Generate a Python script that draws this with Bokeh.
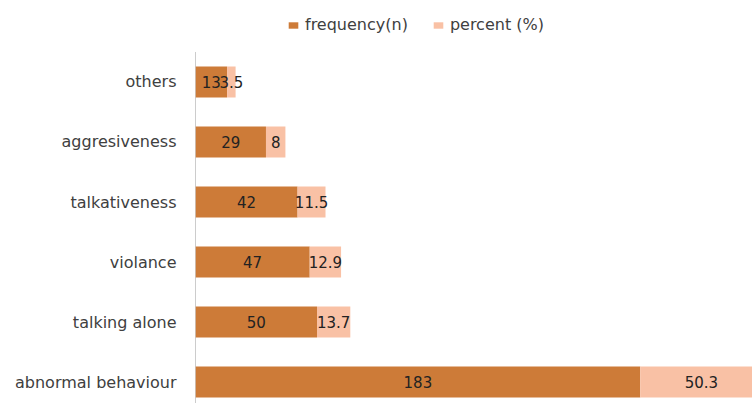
from bokeh.plotting import figure
from bokeh.models import Range1d, FixedTicker, ColumnDataSource, Legend, LegendItem
from bokeh.core.properties import value
from bokeh.embed import file_html
from bokeh.resources import INLINE

categories = ["abnormal behaviour", "talking alone", "violance", "talkativeness", "aggresiveness", "others"]
frequency = [183, 50, 47, 42, 29, 13]
percent = [50.3, 13.7, 12.9, 11.5, 8, 3.5]
freq_labels = ["183", "50", "47", "42", "29", "13"]
pct_labels = ["50.3", "13.7", "12.9", "11.5", "8", "3.5"]

FONT = "DejaVu Sans"
C_FREQ = "#CD7B38"
C_PCT = "#F9C1A5"
TXT = "#404040"

Y_LO = -0.358
Y_AXIS_TOP = 5.5
Y_HI = 6.358

ypos = list(range(len(categories)))
src = ColumnDataSource(dict(
    y=ypos,
    f_end=frequency,
    p_end=[a + b for a, b in zip(frequency, percent)],
    zero=[0] * len(categories),
    f_mid=[a / 2 for a in frequency],
    p_mid=[a + b / 2 for a, b in zip(frequency, percent)],
    fl=freq_labels,
    pl=pct_labels,
))

p = figure(width=752, height=403, output_backend="svg", toolbar_location=None,
           x_range=Range1d(0, 229.2), y_range=Range1d(Y_LO, Y_HI),
           min_border_left=195, min_border_right=0, min_border_bottom=0, min_border_top=0)
p.outline_line_color = None
p.grid.visible = False
p.xaxis.visible = False
p.background_fill_color = "white"
p.border_fill_color = "white"

# axis line (from bottom of range up to top of category area)
p.segment(x0=[0], y0=[Y_LO], x1=[0], y1=[Y_AXIS_TOP], line_color="#999999", line_width=1)

r1 = p.hbar(y="y", left="zero", right="f_end", height=0.52, source=src, fill_color=C_FREQ, line_color=None)
r2 = p.hbar(y="y", left="f_end", right="p_end", height=0.52, source=src, fill_color=C_PCT, line_color=None)

p.text(x="f_mid", y="y", text="fl", source=src, text_align="center", text_baseline="middle",
       text_font=value(FONT), text_font_size="15px", text_color="#222222")
p.text(x="p_mid", y="y", text="pl", source=src, text_align="center", text_baseline="middle",
       text_font=value(FONT), text_font_size="15px", text_color="#222222")

ax = p.yaxis[0]
ax.ticker = FixedTicker(ticks=ypos)
ax.major_label_overrides = {i: c for i, c in enumerate(categories)}
ax.major_tick_line_color = None
ax.minor_tick_line_color = None
ax.major_tick_out = 0
ax.major_tick_in = 0
ax.axis_line_color = None
ax.major_label_standoff = 19
ax.major_label_text_font = FONT
ax.major_label_text_font_size = "16px"
ax.major_label_text_color = TXT

legend = Legend(items=[LegendItem(label="frequency(n)", renderers=[r1]),
                       LegendItem(label="percent (%)", renderers=[r2])],
                orientation="horizontal", location=(92, 369),
                label_text_font=FONT, label_text_font_size="16px", label_text_color=TXT,
                glyph_width=12, glyph_height=8, label_standoff=6, spacing=24,
                border_line_color=None, background_fill_alpha=0, padding=0, margin=0)
p.add_layout(legend)

open("out.html", "w").write(file_html(p, INLINE))
